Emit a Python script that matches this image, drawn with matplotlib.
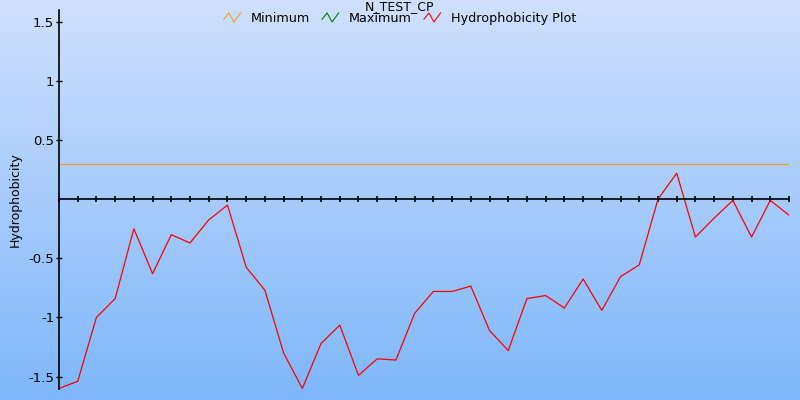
import numpy as np
import matplotlib
matplotlib.use("Agg")
import matplotlib.pyplot as plt
from matplotlib.legend_handler import HandlerBase
from matplotlib.lines import Line2D

title = "N_TEST_CP"
y_label = "Hydrophobicity"
hydro = [-1.60, -1.54, -1.00, -0.84, -0.25, -0.63, -0.30, -0.37, -0.175, -0.05,
         -0.575, -0.77, -1.30, -1.60, -1.22, -1.065, -1.49, -1.35, -1.36, -0.965,
         -0.78, -0.78, -0.735, -1.11, -1.28, -0.84, -0.815, -0.92, -0.675, -0.94,
         -0.655, -0.555, 0.0, 0.22, -0.32, -0.16, -0.01, -0.32, -0.01, -0.135]
minimum = 0.30
y_ticks = [-1.5, -1, -0.5, 0.5, 1, 1.5]
y_tick_labels = ["-1.5", "-1", "-0.5", "0.5", "1", "1.5"]

plt.rcParams['font.family'] = ['DejaVu Sans']
plt.rcParams['font.size'] = 9


class ZigzagHandler(HandlerBase):
    # little "/\/" icon like the original legend
    def create_artists(self, legend, orig_handle, xdescent, ydescent,
                       width, height, fontsize, trans):
        xs = np.array([0, 0.3, 0.6, 1.0]) * width - xdescent
        ys = np.array([0.3, 1.0, 0.0, 1.0]) * height - ydescent
        line = Line2D(xs, ys, color=orig_handle.get_color(), lw=0.8, transform=trans)
        return [line]


fig = plt.figure(figsize=(8, 4), dpi=100)

# background gradient
bg = fig.add_axes([0, 0, 1, 1], zorder=0)
grad = np.linspace(0, 1, 256).reshape(-1, 1)
top = np.array([207, 224, 253]) / 255
bottom = np.array([126, 183, 250]) / 255
img = top[None, None, :] * (1 - grad[:, :, None]) + bottom[None, None, :] * grad[:, :, None]
bg.imshow(img, aspect='auto', extent=[0, 1, 0, 1])
bg.axis('off')

ax = fig.add_axes([59 / 800, 11 / 400, 730 / 800, 379 / 400], zorder=1)
ax.patch.set_alpha(0)
x = np.arange(len(hydro))

h_min, = ax.plot([x[0], x[-1]], [minimum, minimum], color='#f0a020', lw=0.9, label='Minimum')
h_max, = ax.plot([], [], color='green', lw=0.9, label='Maximum')
h_hyd, = ax.plot(x, hydro, color='red', lw=0.9, label='Hydrophobicity Plot')

ax.set_xlim(0, len(hydro) - 1)
ax.set_ylim(-1.605, 1.6)
ax.spines['top'].set_visible(False)
ax.spines['right'].set_visible(False)
ax.spines['bottom'].set_position(('data', 0))
ax.spines['left'].set_linewidth(1.2)
ax.spines['bottom'].set_linewidth(1.2)
ax.set_xticks(x)
ax.set_xticklabels([])
ax.tick_params(axis='x', direction='inout', length=5, width=1.2)
ax.set_yticks(y_ticks)
ax.set_yticklabels(y_tick_labels)
ax.tick_params(axis='y', direction='inout', length=5, width=1, pad=1, labelsize=9.5)

fig.text(15 / 800, 0.5, y_label, rotation=90, va='center', ha='center', fontsize=9)
fig.text(0.5, 0.999, title, ha='center', va='top', fontsize=9)

fig.legend([h_min, h_max, h_hyd], ['Minimum', 'Maximum', 'Hydrophobicity Plot'],
           handler_map={Line2D: ZigzagHandler()}, loc='center',
           bbox_to_anchor=(0.5, 0.954), ncol=3, frameon=False,
           handlelength=1.3, handletextpad=0.8, columnspacing=0.95,
           borderpad=0, fontsize=9.2)

fig.savefig('out.png', dpi=100)
